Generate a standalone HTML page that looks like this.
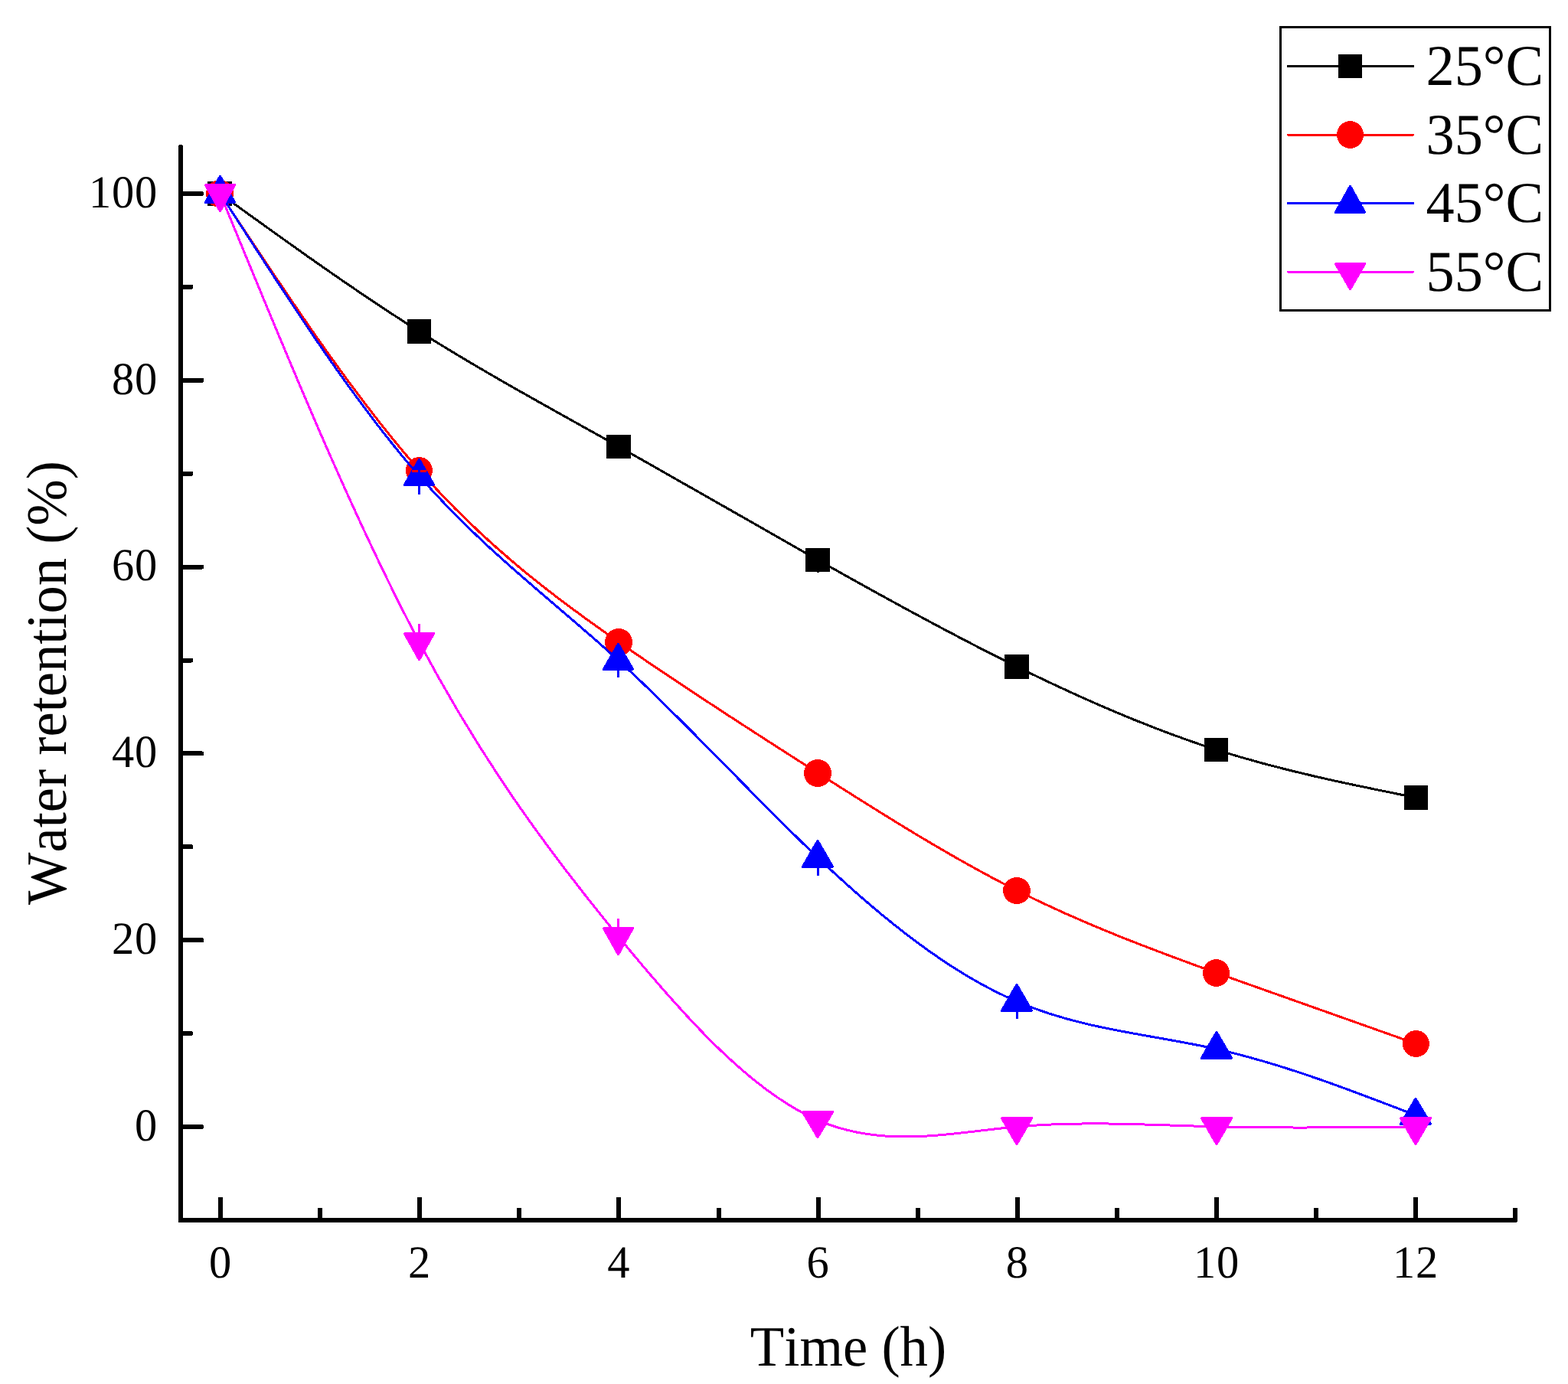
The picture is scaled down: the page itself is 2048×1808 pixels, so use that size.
<!DOCTYPE html>
<html lang="en">
<head>
<meta charset="utf-8">
<title>Water retention (%) vs Time (h)</title>
<style>
html,body{margin:0;padding:0;background:#fff;}
body{width:2048px;height:1808px;overflow:hidden;}
svg{display:block;position:absolute;left:0;top:0;}
svg text{text-rendering:geometricPrecision;font-family:"Liberation Serif",serif;font-kerning:none;font-variant-ligatures:none;white-space:pre;fill:#000;stroke:none;}
</style>
</head>
<body>
<svg width="2048" height="1808" viewBox="0 0 2048 1808" role="img" aria-label="Water retention versus time at 25, 35, 45 and 55 degrees C">
<rect width="2048" height="1808" fill="#fff"/>
<g id="axes" fill="none" stroke="#000" stroke-width="6" shape-rendering="crispEdges">
<path d="M236 192V1594H1979" stroke-linecap="round" stroke-linejoin="miter"/>
<path d="M236 1591v6" stroke-linecap="butt"/>
<g id="yticks" stroke-linecap="round">
<path d="M236 1472H263.5"/>
<path d="M236 1350.1H249.5"/>
<path d="M236 1228.2H263.5"/>
<path d="M236 1106.3H249.5"/>
<path d="M236 984.4H263.5"/>
<path d="M236 862.5H249.5"/>
<path d="M236 740.6H263.5"/>
<path d="M236 618.7H249.5"/>
<path d="M236 496.8H263.5"/>
<path d="M236 374.9H249.5"/>
<path d="M236 253H263.5"/>
</g>
<g id="xticks" stroke-linecap="butt">
<path d="M288 1594V1564"/>
<path d="M418.1 1594V1578"/>
<path d="M548.2 1594V1564"/>
<path d="M678.3 1594V1578"/>
<path d="M808.4 1594V1564"/>
<path d="M938.5 1594V1578"/>
<path d="M1068.6 1594V1564"/>
<path d="M1198.7 1594V1578"/>
<path d="M1328.8 1594V1564"/>
<path d="M1458.9 1594V1578"/>
<path d="M1589 1594V1564"/>
<path d="M1719.1 1594V1578"/>
<path d="M1849.2 1594V1564"/>
<path d="M1979.3 1594V1578"/>
</g></g>
<g id="ticklabels" fill="#000" letter-spacing="0.77">
<text transform="translate(287.9 1668.6) scale(0.975 1)" font-size="60" text-anchor="middle">0</text>
<text transform="translate(548.1 1668.6) scale(0.975 1)" font-size="60" text-anchor="middle">2</text>
<text transform="translate(808.3 1668.6) scale(0.975 1)" font-size="60" text-anchor="middle">4</text>
<text transform="translate(1068.5 1668.6) scale(0.975 1)" font-size="60" text-anchor="middle">6</text>
<text transform="translate(1328.7 1668.6) scale(0.975 1)" font-size="60" text-anchor="middle">8</text>
<text transform="translate(1588.9 1668.6) scale(0.975 1)" font-size="60" text-anchor="middle">10</text>
<text transform="translate(1849.1 1668.6) scale(0.975 1)" font-size="60" text-anchor="middle">12</text>
<text transform="translate(205.9 1489.8) scale(0.975 1)" font-size="60" text-anchor="end">0</text>
<text transform="translate(205.9 1246) scale(0.975 1)" font-size="60" text-anchor="end">20</text>
<text transform="translate(205.9 1002.2) scale(0.975 1)" font-size="60" text-anchor="end">40</text>
<text transform="translate(205.9 758.4) scale(0.975 1)" font-size="60" text-anchor="end">60</text>
<text transform="translate(205.9 514.6) scale(0.975 1)" font-size="60" text-anchor="end">80</text>
<text transform="translate(205.9 270.8) scale(0.975 1)" font-size="60" text-anchor="end">100</text>
</g>
<g id="titles" fill="#000">
<text transform="translate(1108 1783.9) scale(0.9755 1)" font-size="74.5" text-anchor="middle">Time (h)</text>
<text transform="translate(86.3 892) rotate(-90) scale(0.9735 1)" font-size="74.5" text-anchor="middle">Water retention (%)</text>
</g>
<g id="s-black" shape-rendering="crispEdges">
<path d="M287.5 253C374.2 315.64 460.9 378.28 547.6 433C634.4 487.78 721.2 534.62 808 583.3C894.73 631.94 981.47 682.42 1068.2 731.5C1154.9 780.56 1241.6 828.22 1328.3 871C1415.07 913.81 1501.83 951.73 1588.6 979.4C1675.5 1007.12 1762.4 1024.56 1849.3 1042" fill="none" stroke="#000" stroke-width="3" stroke-linejoin="round"/>
<g fill="#000" stroke="none"><rect x="271" y="237" width="32" height="32" rx="1.2"/><rect x="532" y="417" width="31" height="32" rx="1.2"/><rect x="792" y="568" width="32" height="31" rx="1.2"/><rect x="1052" y="716" width="32" height="31" rx="1.2"/><rect x="1312" y="855" width="32" height="32" rx="1.2"/><rect x="1573" y="964" width="31" height="31" rx="1.2"/><rect x="1834" y="1026" width="31" height="32" rx="1.2"/></g>
</g>
<g id="s-red" shape-rendering="crispEdges">
<path d="M287.5 253C374.2 384.46 460.9 515.92 547.6 614.3C634.4 712.79 721.2 778.13 808 838.6C894.73 899.03 981.47 954.6 1068.2 1009.8C1154.9 1064.98 1241.6 1119.79 1328.3 1163.4C1415.07 1207.04 1501.83 1239.46 1588.6 1270.9C1675.5 1302.39 1762.4 1332.89 1849.3 1363.4" fill="none" stroke="#f00" stroke-width="3" stroke-linejoin="round"/>
<g fill="#f00" stroke="none"><ellipse cx="287" cy="253" rx="18" ry="18"/><ellipse cx="547.5" cy="614.5" rx="17.5" ry="17.5"/><ellipse cx="808" cy="839" rx="18" ry="18"/><ellipse cx="1068" cy="1010" rx="18" ry="18"/><ellipse cx="1328" cy="1163.5" rx="18" ry="17.5"/><ellipse cx="1588.5" cy="1271" rx="17.5" ry="18"/><ellipse cx="1849.5" cy="1363.5" rx="17.5" ry="17.5"/></g>
</g>
<g id="s-blue" shape-rendering="crispEdges">
<path d="M287.5 252.5C374.2 387.74 460.9 522.98 547.6 621.9C634.4 720.94 721.2 783.57 808 862.9C894.73 942.17 981.47 1038.09 1068.2 1120.4C1154.9 1202.67 1241.6 1271.34 1328.3 1308.4C1415.07 1345.49 1501.83 1350.94 1588.6 1370.4C1675.5 1389.89 1762.4 1423.45 1849.3 1457" fill="none" stroke="#00f" stroke-width="3" stroke-linejoin="round"/>
<g fill="#00f" stroke="#00f" stroke-width="3.6" stroke-linejoin="round"><path d="M287.5 230.8L306.2 264.2H268.8Z"/><path d="M547.5 600.8L566.2 633.2H528.8Z"/><path d="M807.5 841.8L826.2 874.2H788.8Z"/><path d="M1068 1098.8L1087.2 1132.2H1048.8Z"/><path d="M1328 1286.8L1347.2 1320.2H1308.8Z"/><path d="M1589 1348.8L1608.2 1382.2H1569.8Z"/><path d="M1849 1435.8L1868.2 1468.2H1829.8Z"/></g>
</g>
<g id="s-magenta" shape-rendering="crispEdges">
<path d="M287.5 252.8C374.2 464.17 460.9 675.53 547.6 838.9C634.4 1002.46 721.2 1117.91 808 1223.8C894.73 1329.61 981.47 1425.88 1068.2 1463.4C1154.9 1500.91 1241.6 1479.71 1328.3 1471.9C1415.07 1464.08 1501.83 1469.66 1588.6 1471.9C1675.5 1474.14 1762.4 1473.02 1849.3 1471.9" fill="none" stroke="#f0f" stroke-width="3" stroke-linejoin="round"/>
<g fill="#f0f" stroke="#f0f" stroke-width="3.6" stroke-linejoin="round"><path d="M268.8 241.8H306.2L287.5 275.2Z"/><path d="M528.8 827.8H566.2L547.5 861.2Z"/><path d="M788.8 1212.8H826.2L807.5 1246.2Z"/><path d="M1048.8 1452.8H1087.2L1068 1485.2Z"/><path d="M1308.8 1460.8H1347.2L1328 1494.2Z"/><path d="M1569.8 1460.8H1608.2L1589 1494.2Z"/><path d="M1829.8 1460.8H1868.2L1849 1494.2Z"/></g>
</g>
<g id="errorbars" stroke="none" shape-rendering="crispEdges">
<rect x="1067" y="740" width="3" height="8" fill="#000"/>
<rect x="538" y="614" width="19.4" height="3" fill="#f00"/>
<rect x="546" y="600" width="3" height="46" fill="#00f"/>
<rect x="806" y="842" width="3" height="43" fill="#00f"/>
<rect x="1067" y="1100" width="3" height="44" fill="#00f"/>
<rect x="1327" y="1290" width="3" height="41" fill="#00f"/>
<rect x="546" y="815" width="3" height="45" fill="#f0f"/>
<rect x="806" y="1200" width="3" height="45" fill="#f0f"/>
</g>
<g id="legend">
<rect x="1672.5" y="35.5" width="352" height="370" fill="#fff" stroke="#000" stroke-width="3" shape-rendering="crispEdges"/>
<g shape-rendering="crispEdges">
<path d="M1682.5 86.5H1845.5" stroke="#000" stroke-width="3" stroke-linecap="round" fill="none"/>
<g fill="#000" stroke="none"><rect x="1748" y="71" width="31" height="31" rx="1.2"/></g>
</g>
<text transform="translate(1862.6 111.2) scale(0.982 1)" font-size="75.6" text-anchor="start">25°C</text>
<g shape-rendering="crispEdges">
<path d="M1682.5 176.2H1845.5" stroke="#f00" stroke-width="3" stroke-linecap="round" fill="none"/>
<g fill="#f00" stroke="none"><ellipse cx="1763.5" cy="176" rx="17.5" ry="18"/></g>
</g>
<text transform="translate(1862.6 200.9) scale(0.982 1)" font-size="75.6" text-anchor="start">35°C</text>
<g shape-rendering="crispEdges">
<path d="M1682.5 265.6H1845.5" stroke="#00f" stroke-width="3" stroke-linecap="round" fill="none"/>
<g fill="#00f" stroke="#00f" stroke-width="3.6" stroke-linejoin="round"><path d="M1763.5 243.8L1782.2 277.2H1744.8Z"/></g>
</g>
<text transform="translate(1862.6 290.3) scale(0.982 1)" font-size="75.6" text-anchor="start">45°C</text>
<g shape-rendering="crispEdges">
<path d="M1682.5 355.2H1845.5" stroke="#f0f" stroke-width="3" stroke-linecap="round" fill="none"/>
<g fill="#f0f" stroke="#f0f" stroke-width="3.6" stroke-linejoin="round"><path d="M1744.8 344.8H1782.2L1763.5 377.2Z"/></g>
</g>
<text transform="translate(1862.6 379.9) scale(0.982 1)" font-size="75.6" text-anchor="start">55°C</text>
</g>
</svg>
</body>
</html>
